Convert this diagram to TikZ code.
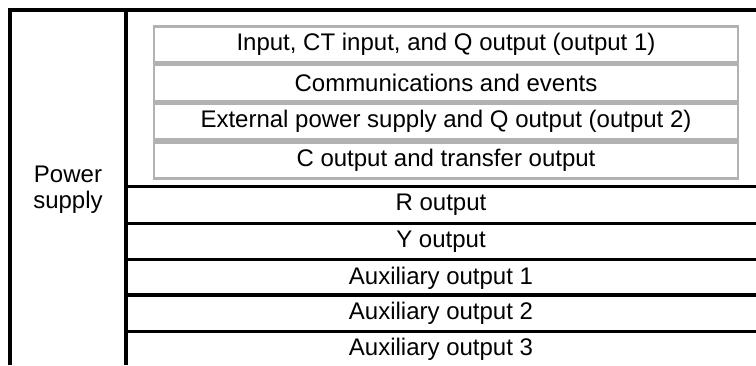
\documentclass[tikz,border=0pt]{standalone}
\usepackage{fontspec}
\setmainfont{Liberation Sans}
\usetikzlibrary{positioning}
\tikzset{
  ps text/.style={font=\fontsize{24}{26}\selectfont},
  ps frame/.style={line width=3.2pt, draw=black},
  ps group/.style={
    rectangle,
    ps text,
    draw=black!30,
    line width=2.6pt,
    minimum width=584pt,
    minimum height=36pt,
    inner sep=0pt,
  },
  ps row/.style={
    rectangle,
    ps text,
    minimum width=630pt,
    minimum height=36pt,
    inner sep=0pt,
  },
  ps label/.style={ps text, align=center, inner sep=0pt},
}
\begin{document}
\begin{tikzpicture}[x=1pt, y=1pt, node distance=0pt]
  \useasboundingbox (0,0) rectangle (756,-365);

  % outer frame
  \coordinate (tl) at (10,-10);
  \coordinate (tr) at (756,-10);
  \coordinate (bl) at (10,-365);
  \coordinate (tm) at (126,-10);
  \coordinate (bm) at (126,-365);

  \node[ps label] (psu) at (68,-190) {Power\\supply};

  % grey group
  \node[ps group] (g1) at (446,-44.5) {Input, CT input, and Q output (output 1)};
  \node[ps group,below=of g1] (g2) {Communications and events};
  \node[ps group,below=of g2] (g3) {External power supply and Q output (output 2)};
  \node[ps group,below=of g3] (g4) {C output and transfer output};

  % outputs
  \node[ps row] (rR) at (441,-205) {R output};
  \node[ps row,below=of rR] (rY) {Y output};
  \node[ps row,below=of rY] (rA1) {Auxiliary output 1};
  \node[ps row,below=of rA1,yshift=1pt] (rA2) {Auxiliary output 2};
  \node[ps row,below=of rA2] (rA3) {Auxiliary output 3};

  \draw[ps frame] (bl) -- (tl) -- (tr);
  \draw[ps frame] (tm) -- (bm);
  \foreach \r in {rR,rY,rA1,rA2,rA3}
    \draw[ps frame] (\r.north west) -- (\r.north east);
\end{tikzpicture}
\end{document}
